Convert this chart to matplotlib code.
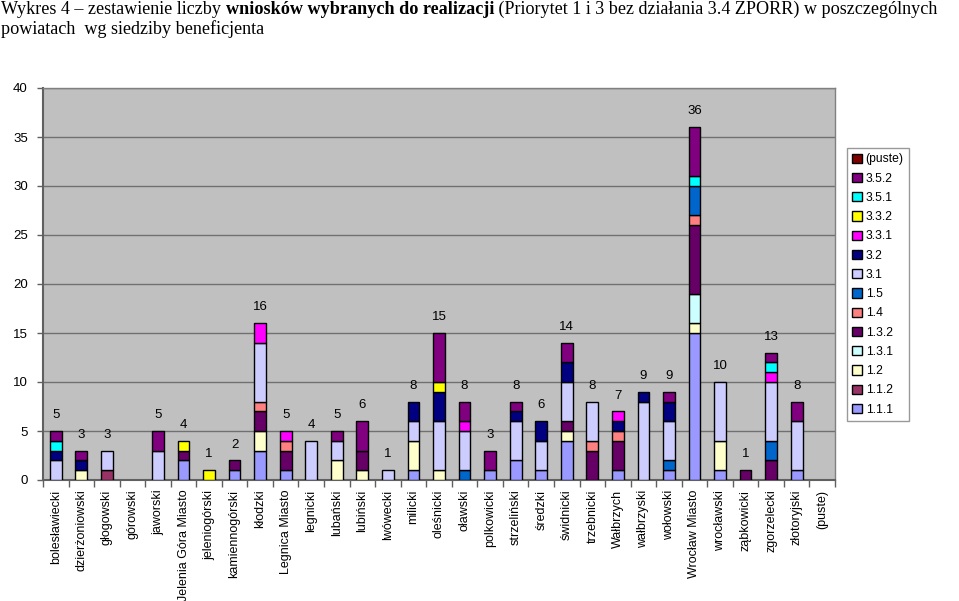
import matplotlib
matplotlib.use("Agg")
import matplotlib.pyplot as plt
from matplotlib.patches import Patch
import numpy as np

categories = ["bolesławiecki", "dzierżoniowski", "głogowski", "górowski", "jaworski",
              "Jelenia Góra Miasto", "jeleniogórski", "kamiennogórski", "kłodzki",
              "Legnica Miasto", "legnicki", "lubański", "lubiński", "lwówecki", "milicki",
              "oleśnicki", "oławski", "polkowicki", "strzeliński", "średzki", "świdnicki",
              "trzebnicki", "Wałbrzych", "wałbrzyski", "wołowski", "Wrocław Miasto",
              "wrocławski", "ząbkowicki", "zgorzelecki", "złotoryjski", "(puste)"]

series_names = ["1.1.1", "1.1.2", "1.2", "1.3.1", "1.3.2", "1.4", "1.5",
                "3.1", "3.2", "3.3.1", "3.3.2", "3.5.1", "3.5.2", "(puste)"]

#            bol dzi gło gór jaw JGM jel kam kło LM leg lub lbń lwó mil ole oła pol str śre świ trz Wał wał woł WM wro ząb zgo zło pus
s_1_1_1 = [0, 0, 0, 0, 0, 2, 0, 1, 3, 1, 0, 0, 0, 0, 1, 0, 0, 1, 2, 1, 4, 0, 1, 0, 1, 15, 1, 0, 0, 1, 0]
s_1_1_2 = [0, 0, 1, 0, 0, 0, 0, 0, 0, 0, 0, 0, 0, 0, 0, 0, 0, 0, 0, 0, 0, 0, 0, 0, 0, 0, 0, 0, 0, 0, 0]
s_1_2   = [0, 1, 0, 0, 0, 0, 0, 0, 2, 0, 0, 2, 1, 0, 3, 1, 0, 0, 0, 0, 1, 0, 0, 0, 0, 1, 3, 0, 0, 0, 0]
s_1_3_1 = [0, 0, 0, 0, 0, 0, 0, 0, 0, 0, 0, 0, 0, 0, 0, 0, 0, 0, 0, 0, 0, 0, 0, 0, 0, 3, 0, 0, 0, 0, 0]
s_1_3_2 = [0, 0, 0, 0, 0, 1, 0, 1, 2, 2, 0, 0, 2, 0, 0, 0, 0, 0, 0, 0, 1, 3, 3, 0, 0, 7, 0, 1, 2, 0, 0]
s_1_4   = [0, 0, 0, 0, 0, 0, 0, 0, 1, 1, 0, 0, 0, 0, 0, 0, 0, 0, 0, 0, 0, 1, 1, 0, 0, 1, 0, 0, 0, 0, 0]
s_1_5   = [0, 0, 0, 0, 0, 0, 0, 0, 0, 0, 0, 0, 0, 0, 0, 0, 1, 0, 0, 0, 0, 0, 0, 0, 1, 3, 0, 0, 2, 0, 0]
s_3_1   = [2, 0, 2, 0, 3, 0, 0, 0, 6, 0, 4, 2, 0, 1, 2, 5, 4, 0, 4, 3, 4, 4, 0, 8, 4, 0, 6, 0, 6, 5, 0]
s_3_2   = [1, 1, 0, 0, 0, 0, 0, 0, 0, 0, 0, 0, 0, 0, 2, 3, 0, 0, 1, 2, 2, 0, 1, 1, 2, 0, 0, 0, 0, 0, 0]
s_3_3_1 = [0, 0, 0, 0, 0, 0, 0, 0, 2, 1, 0, 0, 0, 0, 0, 0, 1, 0, 0, 0, 0, 0, 1, 0, 0, 0, 0, 0, 1, 0, 0]
s_3_3_2 = [0, 0, 0, 0, 0, 1, 1, 0, 0, 0, 0, 0, 0, 0, 0, 1, 0, 0, 0, 0, 0, 0, 0, 0, 0, 0, 0, 0, 0, 0, 0]
s_3_5_1 = [1, 0, 0, 0, 0, 0, 0, 0, 0, 0, 0, 0, 0, 0, 0, 0, 0, 0, 0, 0, 0, 0, 0, 0, 0, 1, 0, 0, 1, 0, 0]
s_3_5_2 = [1, 1, 0, 0, 2, 0, 0, 0, 0, 0, 0, 1, 3, 0, 0, 5, 2, 2, 1, 0, 2, 0, 0, 0, 1, 5, 0, 0, 1, 2, 0]
s_puste = [0] * 31

series_values = [s_1_1_1, s_1_1_2, s_1_2, s_1_3_1, s_1_3_2, s_1_4, s_1_5,
                 s_3_1, s_3_2, s_3_3_1, s_3_3_2, s_3_5_1, s_3_5_2, s_puste]

colors = ["#9999FF", "#993366", "#FFFFCC", "#CCFFFF", "#660066", "#FF8080", "#0066CC",
          "#CCCCFF", "#000080", "#FF00FF", "#FFFF00", "#00FFFF", "#800080", "#800000"]

yticks = [0, 5, 10, 15, 20, 25, 30, 35, 40]

W, H = 959, 601
fig = plt.figure(figsize=(W / 100, H / 100), dpi=100)
fig.patch.set_facecolor("white")

def px(x0, y0, x1, y1):
    return [x0 / W, 1 - y1 / H, (x1 - x0) / W, (y1 - y0) / H]

ax = fig.add_axes(px(43, 88, 835, 480))
ax.set_facecolor("#C0C0C0")

x = np.arange(len(categories))
bottom = np.zeros(len(categories))
for vals, col in zip(series_values, colors):
    v = np.array(vals, dtype=float)
    m = v > 0
    if m.any():
        ax.bar(x[m], v[m], bottom=bottom[m], width=0.46, color=col, edgecolor="black",
               linewidth=1.0, zorder=3)
    bottom += v

totals = bottom
for xi, t in zip(x, totals):
    if t > 0:
        ax.annotate(f"{int(t)}", xy=(xi, t), xytext=(0, 7), textcoords="offset points",
                    ha="center", va="bottom", fontsize=9.5, family="Liberation Sans")

ax.set_xlim(-0.5, len(categories) - 0.5)
ax.set_ylim(0, 40)
ax.set_yticks(yticks)
ax.set_yticklabels([str(t) for t in yticks], fontsize=9.5, family="Liberation Sans")
ax.yaxis.grid(True, color="#707070", linewidth=1.0, zorder=0)
ax.set_axisbelow(True)
ax.tick_params(axis="y", length=4, width=1, color="#606060", pad=7)

ax.set_xticks(x)
ax.set_xticklabels(categories, rotation=90, fontsize=9.0, family="Liberation Sans",
                   va="top", ha="center")
ax.tick_params(axis="x", which="major", length=0, pad=7)
ax.set_xticks(np.arange(-0.5, len(categories), 1.0), minor=True)
ax.tick_params(axis="x", which="minor", length=5, width=1, color="#606060")

for s in ["top", "right"]:
    ax.spines[s].set_color("#808080")
    ax.spines[s].set_linewidth(1.0)
for s in ["left", "bottom"]:
    ax.spines[s].set_color("#606060")
    ax.spines[s].set_linewidth(1.5)

# Legend
handles = [Patch(facecolor=c, edgecolor="black", linewidth=1.0) for c in colors]
leg = fig.legend(handles[::-1], series_names[::-1],
                 loc="upper left", bbox_to_anchor=(847 / W, 1 - 148 / H),
                 prop={"family": "Liberation Sans", "size": 8.7},
                 frameon=True, fancybox=False, edgecolor="#808080",
                 handlelength=0.8, handleheight=0.8, handletextpad=0.3,
                 labelspacing=0.6, borderpad=0.45, borderaxespad=0)
leg.get_frame().set_linewidth(1.0)

# Title with mixed bold
tfs = 13.1
t1 = fig.text(1 / W, 1 - 1 / H, "Wykres 4 – zestawienie liczby ", fontsize=tfs,
              family="Liberation Serif", ha="left", va="top")
t2 = fig.add_artist(matplotlib.text.Annotation(
    "wniosków wybranych do realizacji", xy=(1, 0), xycoords=t1,
    fontsize=tfs, family="Liberation Serif", fontweight="bold", ha="left", va="bottom"))
t3 = fig.add_artist(matplotlib.text.Annotation(
    " (Priorytet 1 i 3 bez działania 3.4 ZPORR) w poszczególnych", xy=(1, 0), xycoords=t2,
    fontsize=tfs, family="Liberation Serif", ha="left", va="bottom"))
fig.text(1 / W, 1 - 20 / H, "powiatach  wg siedziby beneficjenta", fontsize=tfs,
         family="Liberation Serif", ha="left", va="top")

fig.savefig("out.png", dpi=100, facecolor="white")
